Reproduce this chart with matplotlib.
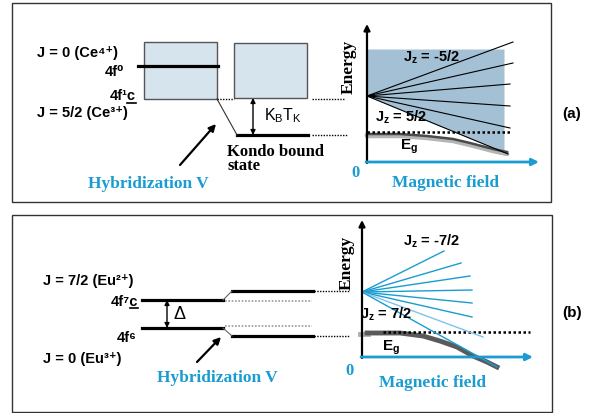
import matplotlib
matplotlib.use('Agg')
import matplotlib.pyplot as plt
from matplotlib.patches import Rectangle

plt.rcParams['mathtext.default'] = 'regular'

SANS = ['Liberation Sans', 'DejaVu Sans']
SERIF = 'Liberation Serif'
BLUE = '#1a9cd1'
SHADE = '#a3c0d5'
BOXFILL = '#d6e4ee'

# ---------------- data (diagram units = pixels of the reference) ----------------
# panel (a): Ce levels
a_level_4f0 = dict(x=[138, 218], y=67)
a_box_bare = dict(x=144, y=43, w=73, h=57)
a_box_hyb = dict(x=234, y=44, w=73, h=55)
a_kondo = dict(x=[237, 308], y=136)
# fan of Jz levels (a)
fan_a_labels = ['-5/2', '-3/2', '-1/2', '1/2', '3/2', '5/2']
fan_a_apex = (367, 97)
fan_a_end_field = [513, 513, 510, 510, 510, 508]
fan_a_end_energy = [43, 64, 85, 107, 129, 155]
# gap curve (a)
gap_a_field = [367, 400, 427, 453, 470, 493, 507]
gap_a_energy = [135, 135, 137, 140, 144, 150, 153]

# panel (b): Eu levels
b_upper = dict(x=[142, 223], y=301)
b_lower = dict(x=[142, 223], y=329)
b_upper_h = dict(x=[232, 313], y=292)
b_lower_h = dict(x=[232, 313], y=337)
fan_b_labels = ['-7/2', '-5/2', '-3/2', '-1/2', '1/2', '3/2', '5/2', '7/2']
fan_b_apex = (362, 293)
fan_b_end_field = [444, 461, 470, 472, 472, 472, 483, 497]
fan_b_end_energy = [252, 264, 277, 291, 304, 318, 338, 368]
gap_b_field = [367, 400, 423, 440, 457, 473, 487, 497]
gap_b_energy = [334, 334, 337, 342, 348, 357, 363, 368]

# ---------------- figure ----------------
fig = plt.figure(figsize=(6.0, 4.14), dpi=100)
ax = fig.add_axes([0, 0, 1, 1])
ax.set_xlim(0, 600)
ax.set_ylim(414, 0)
ax.axis('off')

# panel frames
ax.add_patch(Rectangle((12, 4), 539, 199, fill=False, ec='#333333', lw=1.0))
ax.add_patch(Rectangle((12, 216), 540, 197, fill=False, ec='#333333', lw=1.0))


def txt(x, y, s, size=10.5, family=SANS, weight='bold', color='black', ha='left', **kw):
    ax.text(x, y, s, fontsize=size, family=family, fontweight=weight, color=color,
            ha=ha, va='baseline', **kw)


def dotted(x0, x1, y, color='black', lw=1.0):
    ax.plot([x0, x1], [y, y], color=color, lw=lw, ls=(0, (1, 1)))


# ======== panel (a) left ========
ax.add_patch(Rectangle((a_box_bare['x'], a_box_bare['y']), a_box_bare['w'], a_box_bare['h'],
                       fc=BOXFILL, ec='#555555', lw=1.0, zorder=1))
ax.add_patch(Rectangle((a_box_hyb['x'], a_box_hyb['y']), a_box_hyb['w'], a_box_hyb['h'],
                       fc=BOXFILL, ec='#555555', lw=1.0, zorder=1))
ax.plot(a_level_4f0['x'], [a_level_4f0['y']] * 2, color='black', lw=2.3, zorder=2)
ax.plot(a_kondo['x'], [a_kondo['y']] * 2, color='black', lw=2.3, zorder=2)
dotted(217, 234, 100)
dotted(312, 345, 100)
dotted(312, 347, 136)
ax.plot([217, 237], [100, 136], color='#333333', lw=0.8)
ax.annotate('', xy=(253, 99), xytext=(253, 136),
            arrowprops=dict(arrowstyle='<|-|>', color='black', lw=1.0,
                            mutation_scale=7, shrinkA=0, shrinkB=0))
ax.annotate('', xy=(216, 125), xytext=(180, 166),
            arrowprops=dict(arrowstyle='-|>', color='black', lw=1.6,
                            mutation_scale=10, shrinkA=0, shrinkB=0))

txt(37, 57, 'J = 0 (Ce\u2074\u207a)')
txt(124, 76, '4f\u2070', ha='right')
txt(136, 100, '4f\u00b9c', ha='right')
ax.plot([127, 136], [103.5, 103.5], color='black', lw=1.2)
txt(37, 117, 'J = 5/2 (Ce\u00b3\u207a)')
txt(264, 120, 'K$_B$T$_K$', size=11.5, weight='normal')
ax.text(227, 170, 'Kondo bound\nstate', fontsize=12, family=SERIF, fontweight='bold',
        ha='left', va='baseline', linespacing=0.8)
txt(88, 188, 'Hybridization V', size=12.5, family=SERIF, color=BLUE)

# ======== panel (a) right ========
xa0, ya0 = fan_a_apex
lo_x, lo_y = fan_a_end_field[-1], fan_a_end_energy[-1]
shade_right = 504
shade_bottom = ya0 + (lo_y - ya0) * (shade_right - xa0) / (lo_x - xa0)
ax.fill_between([xa0, shade_right], [50, 50], [ya0, shade_bottom], color=SHADE, lw=0, zorder=1)
for xe, ye in zip(fan_a_end_field, fan_a_end_energy):
    ax.plot([xa0, xe], [ya0, ye], color='black', lw=0.8, zorder=3)
ax.plot(gap_a_field, [v + 1.8 for v in gap_a_energy], color='#b5b5b5', lw=3.5,
        solid_capstyle='round', zorder=2)
ax.plot(gap_a_field, gap_a_energy, color='#4a4a4a', lw=1.8, zorder=2)
dotted(367, 512, 133, lw=1.8)
ax.annotate('', xy=(367, 25), xytext=(367, 164),
            arrowprops=dict(arrowstyle='-|>', color='black', lw=1.6,
                            mutation_scale=9, shrinkA=0, shrinkB=0), zorder=4)
ax.annotate('', xy=(539, 163), xytext=(366, 163),
            arrowprops=dict(arrowstyle='-|>', color=BLUE, lw=2.0,
                            mutation_scale=10, shrinkA=0, shrinkB=0), zorder=4)
ax.text(349, 67, 'Energy', fontsize=12.5, family=SERIF, fontweight='bold',
        rotation=90, ha='center', va='center')
txt(403, 62, 'J$_z$ = ' + fan_a_labels[0], size=10.5)
txt(375, 122, 'J$_z$ = ' + fan_a_labels[-1], size=10.5)
txt(400, 150, 'E$_g$', size=11)
txt(355, 177, '0', size=12, family=SERIF, color=BLUE, ha='center')
txt(392, 187, 'Magnetic field', size=12.5, family=SERIF, color=BLUE)
txt(562, 118, '(a)', size=11)

# ======== panel (b) left ========
for lev in (b_upper, b_lower, b_upper_h, b_lower_h):
    ax.plot(lev['x'], [lev['y']] * 2, color='black', lw=2.3, zorder=2)
ax.plot([223, 232], [b_upper['y'], b_upper_h['y']], color='#666666', lw=0.8)
ax.plot([223, 232], [b_lower['y'], b_lower_h['y']], color='#666666', lw=0.8)
dotted(225, 312, 302, color='#999999', lw=1.2)
dotted(225, 312, 327, color='#999999', lw=1.2)
dotted(314, 349, 292)
dotted(314, 349, 337)
ax.annotate('', xy=(167, 301), xytext=(167, 329),
            arrowprops=dict(arrowstyle='<|-|>', color='black', lw=1.0,
                            mutation_scale=7, shrinkA=0, shrinkB=0))
ax.annotate('', xy=(221, 338), xytext=(197, 363),
            arrowprops=dict(arrowstyle='-|>', color='black', lw=1.6,
                            mutation_scale=10, shrinkA=0, shrinkB=0))
txt(43, 285, 'J = 7/2 (Eu\u00b2\u207a)')
txt(138, 306, '4f\u2077c', ha='right')
ax.plot([130, 138], [309, 309], color='black', lw=1.2)
txt(173, 319, '\u0394', size=13, weight='normal')
txt(137, 342, '4f\u2076', ha='right')
txt(43, 363, 'J = 0 (Eu\u00b3\u207a)')
txt(157, 382, 'Hybridization V', size=12.5, family=SERIF, color=BLUE)

# ======== panel (b) right ========
xb0, yb0 = fan_b_apex
for i, (xe, ye) in enumerate(zip(fan_b_end_field, fan_b_end_energy)):
    c = '#7fc4e6' if i == 6 else BLUE
    ax.plot([xb0, xe], [yb0, ye], color=c, lw=1.0, zorder=3)
ax.plot([360, 368], [335, 335], color='#b0b0b0', lw=3.5, zorder=2)
ax.plot(gap_b_field, gap_b_energy, color='#5a5a5a', lw=3.5, zorder=2)
dotted(383, 530, 333, lw=1.8)
ax.annotate('', xy=(362, 221), xytext=(362, 359),
            arrowprops=dict(arrowstyle='-|>', color='black', lw=1.6,
                            mutation_scale=9, shrinkA=0, shrinkB=0), zorder=4)
ax.annotate('', xy=(533, 358), xytext=(361, 358),
            arrowprops=dict(arrowstyle='-|>', color=BLUE, lw=2.0,
                            mutation_scale=10, shrinkA=0, shrinkB=0), zorder=4)
ax.text(347, 263, 'Energy', fontsize=12.5, family=SERIF, fontweight='bold',
        rotation=90, ha='center', va='center')
txt(403, 246, 'J$_z$ = ' + fan_b_labels[0], size=10.5)
txt(360, 319, 'J$_z$ = ' + fan_b_labels[-1], size=10.5, zorder=5)
txt(382, 351, 'E$_g$', size=11)
txt(350, 375, '0', size=12, family=SERIF, color=BLUE, ha='center')
txt(379, 387, 'Magnetic field', size=12.5, family=SERIF, color=BLUE)
txt(562, 317, '(b)', size=11)

fig.savefig('out.png', dpi=100)
